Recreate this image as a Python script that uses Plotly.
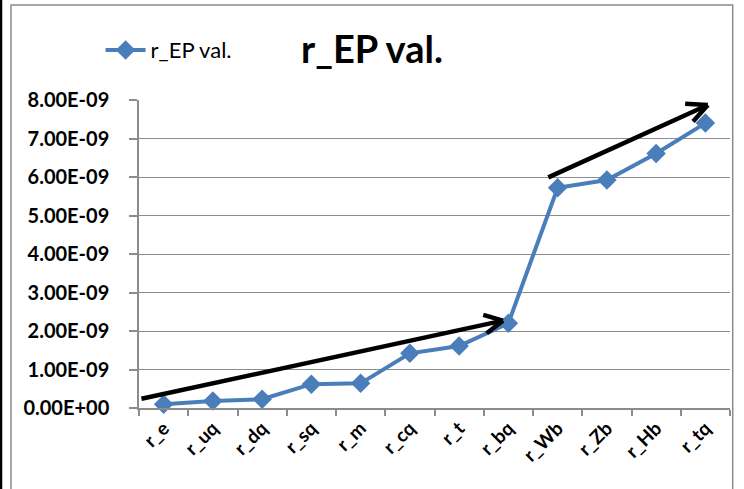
import plotly.graph_objects as go

# ---- data ----
categories = ["r_e", "r_uq", "r_dq", "r_sq", "r_m", "r_cq", "r_t", "r_bq", "r_Wb", "r_Zb", "r_Hb", "r_tq"]
values = [0.10e-9, 0.18e-9, 0.23e-9, 0.62e-9, 0.64e-9, 1.42e-9, 1.61e-9, 2.20e-9, 5.72e-9, 5.92e-9, 6.61e-9, 7.40e-9]
series_name = "r_EP val."
y_tick_vals = [0, 1e-9, 2e-9, 3e-9, 4e-9, 5e-9, 6e-9, 7e-9, 8e-9]
y_tick_text = ["0.00E+00", "1.00E-09", "2.00E-09", "3.00E-09", "4.00E-09",
               "5.00E-09", "6.00E-09", "7.00E-09", "8.00E-09"]

# trend arrows (category-index x, value y): start, tip, arm1, arm2
arrow1 = {"start": (-0.45, 0.24e-9), "tip": (6.89, 2.27e-9), "arm1": (6.49, 2.42e-9), "arm2": (6.56, 1.94e-9)}
arrow2 = {"start": (7.81, 5.99e-9), "tip": (11.05, 7.87e-9), "arm1": (10.59, 7.90e-9), "arm2": (10.75, 7.44e-9)}

BLUE = "#4A7EBB"
GRAY = "#8C8C8C"
FONT = "Lato"

fig = go.Figure()
fig.add_trace(go.Scatter(
    x=categories, y=values, name=series_name, mode="lines+markers",
    line=dict(color=BLUE, width=4),
    marker=dict(symbol="diamond", size=15, color=BLUE),
    cliponaxis=False,
))

shapes = []
for arr in (arrow1, arrow2):
    for a, b in ((arr["start"], arr["tip"]), (arr["arm1"], arr["tip"]), (arr["arm2"], arr["tip"])):
        shapes.append(dict(type="line", xref="x", yref="y", x0=a[0], y0=a[1], x1=b[0], y1=b[1],
                           line=dict(color="black", width=4.5), layer="above"))

# chart frame
shapes.append(dict(type="rect", xref="paper", yref="paper", x0=-0.2166, x1=1.0046, y0=-0.30, y1=1.3084,
                   line=dict(color=GRAY, width=1.5), layer="below"))
shapes.append(dict(type="line", xref="paper", yref="paper", x0=-0.2335, x1=-0.2335, y0=-0.30, y1=1.40,
                   line=dict(color="black", width=2.5), layer="below"))

fig.update_layout(
    width=744, height=489,
    margin=dict(l=139, r=14, t=100, b=81, autoexpand=False),
    paper_bgcolor="white", plot_bgcolor="white",
    font=dict(family=FONT, color="black"),
    title=dict(text="<b>r_EP val.</b>", x=0.5, xref="container", xanchor="center",
               y=1 - 50 / 489, yref="container", yanchor="middle",
               font=dict(family=FONT, size=38, color="black")),
    showlegend=True,
    legend=dict(x=-0.065, xanchor="left", y=1.162, yanchor="middle",
                font=dict(family=FONT, size=22, color="black"),
                bgcolor="rgba(0,0,0,0)", itemwidth=40),
    shapes=shapes,
    xaxis=dict(type="category", showline=True, linecolor=GRAY, linewidth=1.5,
               ticks="outside", tickson="boundaries", ticklen=6, tickcolor=GRAY, tickwidth=1.5,
               showgrid=False, tickangle=-45, automargin=False,
               tickfont=dict(family=FONT, size=19, color="black"),
               range=[-0.5, len(categories) - 0.5]),
    yaxis=dict(range=[0, 8e-9], tickvals=y_tick_vals, ticktext=y_tick_text,
               showline=True, linecolor=GRAY, linewidth=1.5, automargin=False,
               showgrid=True, gridcolor=GRAY, gridwidth=1.2, zeroline=False,
               ticks="outside", ticklen=8, tickcolor=GRAY, tickwidth=1.5,
               ticklabelstandoff=16,
               tickfont=dict(family=FONT, size=20, color="black")),
)
fig.update_xaxes(tickfont=dict(weight="bold"))
fig.update_yaxes(tickfont=dict(weight="bold"))

fig.write_html("out.html", config={"displayModeBar": False},
               post_script="document.body.style.margin='0';document.body.style.overflow='hidden';")
